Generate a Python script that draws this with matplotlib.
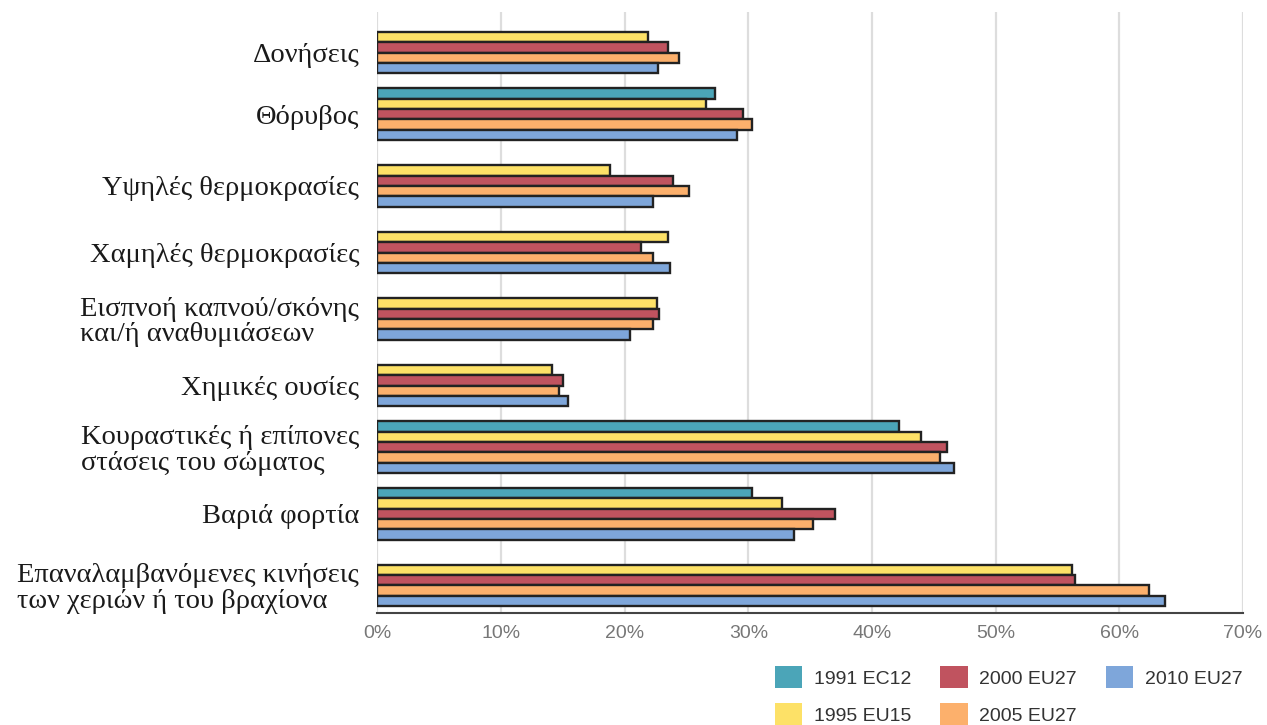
import numpy as np
import matplotlib.pyplot as plt
from matplotlib.patches import Patch

categories = ['Δονήσεις', 'Θόρυβος', 'Υψηλές θερμοκρασίες', 'Χαμηλές θερμοκρασίες',
              'Εισπνοή καπνού/σκόνης\nκαι/ή αναθυμιάσεων', 'Χημικές ουσίες',
              'Κουραστικές ή επίπονες\nστάσεις του σώματος', 'Βαριά φορτία',
              'Επαναλαμβανόμενες κινήσεις\nτων χεριών ή του βραχίονα']
series = ['1991 EC12', '1995 EU15', '2000 EU27', '2005 EU27', '2010 EU27']
colors = ['#4ba5b8', '#fde167', '#c0535f', '#fcb06c', '#7ea6da']

nan = np.nan
v1991 = [nan, 27.3, nan, nan, nan, nan, 42.2, 30.3, nan]
v1995 = [21.9, 26.6, 18.8, 23.5, 22.6, 14.1, 44.0, 32.7, 56.2]
v2000 = [23.5, 29.6, 23.9, 21.3, 22.8, 15.0, 46.1, 37.0, 56.4]
v2005 = [24.4, 30.3, 25.2, 22.3, 22.3, 14.7, 45.5, 35.2, 62.4]
v2010 = [22.7, 29.1, 22.3, 23.7, 20.4, 15.4, 46.6, 33.7, 63.7]
values = [v1991, v1995, v2000, v2005, v2010]

fig = plt.figure(figsize=(12.67, 7.25), dpi=100)
ax = fig.add_axes([377.3/1267, 1-613/725, (1243-377.3)/1267, 601/725])

step = 6.44
base = np.arange(len(categories))*step
for j, (vals, c) in enumerate(zip(values, colors)):
    ax.barh(base + j + 0.5, vals, height=1.0, color=c, edgecolor='#222222',
            linewidth=1.7, zorder=3)

# label centred on the bars that are present
centres = []
for i in range(len(categories)):
    present = [j for j in range(5) if not np.isnan(values[j][i])]
    centres.append(base[i] + np.mean(present) + 0.5)
ax.set_yticks(centres)
ax.set_yticklabels(categories, fontsize=20.5, family='Liberation Serif',
                   color='#1a1a1a', multialignment='left', linespacing=1.02)
ax.tick_params(axis='y', length=0, pad=13)

ax.set_ylim(57.18, -0.94)
ax.set_xlim(0, 70)
ax.set_xticks(np.arange(0, 71, 10))
ax.set_xticklabels(['%d%%' % t for t in range(0, 71, 10)], fontsize=14,
                   family='Liberation Sans', color='#777777')
ax.tick_params(axis='x', length=0, pad=9)
ax.grid(axis='x', color='#dddddd', linewidth=1.6, zorder=0)
for s in ['top', 'right', 'left']:
    ax.spines[s].set_visible(False)
ax.spines['bottom'].set_color('#444444')
ax.spines['bottom'].set_linewidth(1.5)

handles = [Patch(facecolor=c, edgecolor='none') for c in colors]
fig.legend(handles, series, loc='upper left', bbox_to_anchor=(775/1267, 1-666/725),
           ncol=3, frameon=False, handlelength=1.4, handleheight=1.4,
           handletextpad=0.6, labelspacing=0.75, columnspacing=1.5,
           borderpad=0, borderaxespad=0, prop={'family': 'Liberation Sans', 'size': 14},
           labelcolor='#333333')

fig.savefig('out.png', dpi=100)
